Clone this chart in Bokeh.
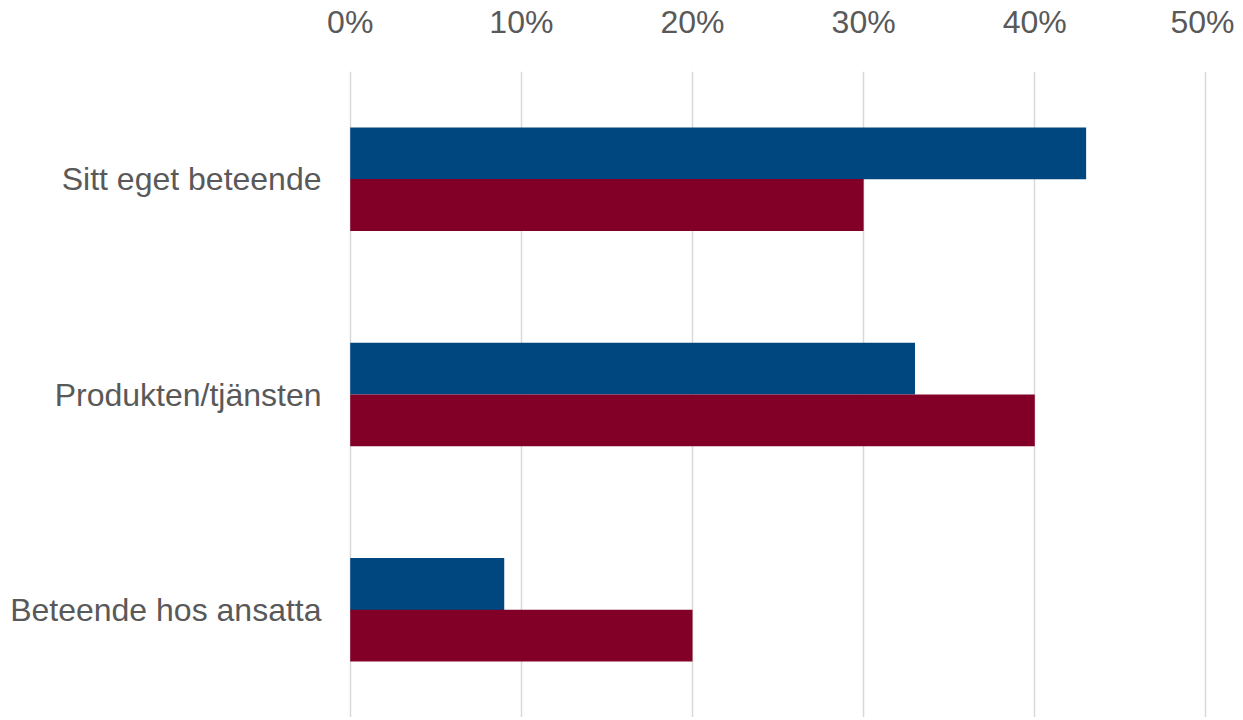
from bokeh.plotting import figure
from bokeh.models import FactorRange, Range1d, NumeralTickFormatter, FixedTicker
from bokeh.transform import dodge
from bokeh.embed import file_html
from bokeh.resources import INLINE
from bokeh.models import ColumnDataSource

categories = ["Sitt eget beteende", "Produkten/tjänsten", "Beteende hos ansatta"]
series_blue = [0.43, 0.33, 0.09]
series_red = [0.30, 0.40, 0.20]
x_ticks = [0.0, 0.1, 0.2, 0.3, 0.4, 0.5]

source = ColumnDataSource(dict(cat=categories, blue=series_blue, red=series_red))

p = figure(
    frame_width=860, frame_height=646,
    y_range=FactorRange(factors=list(reversed(categories))),
    x_range=Range1d(-0.001, 0.5015),
    x_axis_location="above",
    output_backend="svg", toolbar_location=None,
    min_border_left=348, min_border_right=26, min_border_top=69, min_border_bottom=0,
)

p.hbar(y=dodge("cat", 0.12, range=p.y_range), right="blue", left=0, height=0.241,
       source=source, fill_color="#00467F", line_color=None)
p.hbar(y=dodge("cat", -0.12, range=p.y_range), right="red", left=0, height=0.241,
       source=source, fill_color="#820028", line_color=None)

p.outline_line_color = None
p.background_fill_color = "white"
p.border_fill_color = "white"

xa = p.xaxis[0]
xa.ticker = FixedTicker(ticks=x_ticks)
xa.formatter = NumeralTickFormatter(format="0%")
xa.axis_line_color = None
xa.major_tick_line_color = None
xa.minor_tick_line_color = None
xa.major_label_text_font = "Liberation Sans"
xa.major_label_text_font_size = "32px"
xa.major_label_text_color = "#595959"
xa.major_label_standoff = 26

ya = p.yaxis[0]
ya.axis_line_color = None
ya.major_tick_line_color = None
ya.minor_tick_line_color = None
ya.major_label_text_font = "Liberation Sans"
ya.major_label_text_font_size = "32px"
ya.major_label_text_color = "#595959"
ya.major_label_standoff = 21

p.xgrid.grid_line_color = "#d9d9d9"
p.xgrid.grid_line_width = 1.5
p.ygrid.grid_line_color = None

open("out.html", "w").write(file_html(p, INLINE))
